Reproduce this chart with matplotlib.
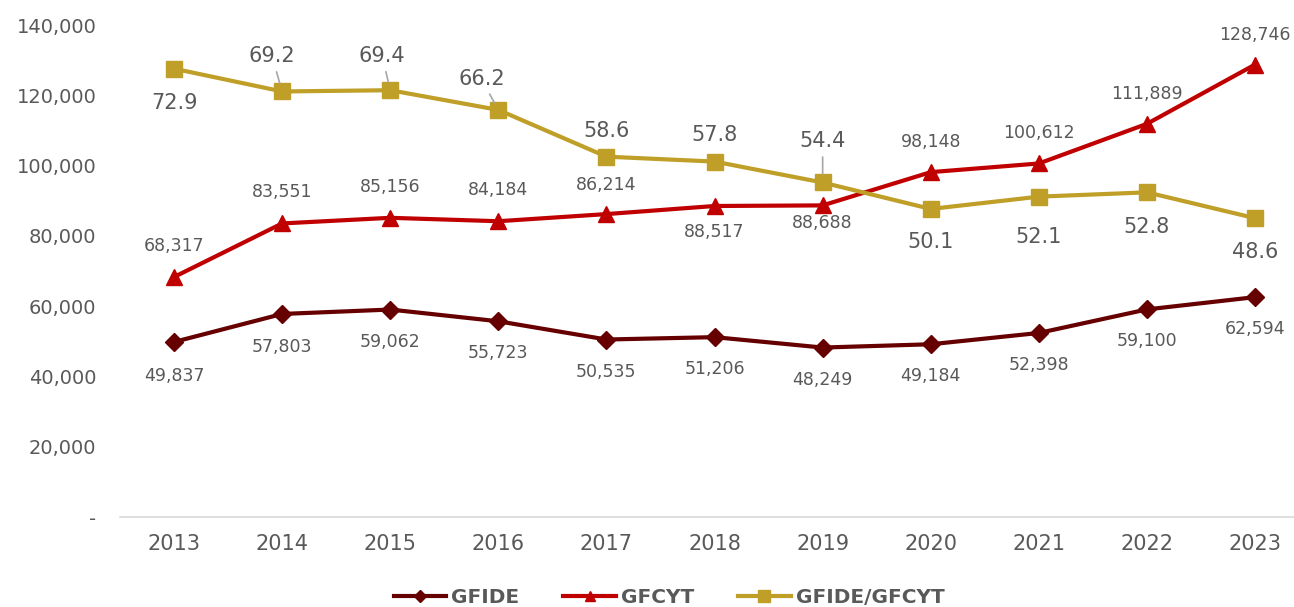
import matplotlib
matplotlib.use("Agg")
import matplotlib.pyplot as plt

years = ["2013", "2014", "2015", "2016", "2017", "2018", "2019", "2020", "2021", "2022", "2023"]
gfide = [49837, 57803, 59062, 55723, 50535, 51206, 48249, 49184, 52398, 59100, 62594]
gfcyt = [68317, 83551, 85156, 84184, 86214, 88517, 88688, 98148, 100612, 111889, 128746]
ratio = [72.9, 69.2, 69.4, 66.2, 58.6, 57.8, 54.4, 50.1, 52.1, 52.8, 48.6]
yticks = [0, 20000, 40000, 60000, 80000, 100000, 120000, 140000]
ytick_labels = ["-", "20,000", "40,000", "60,000", "80,000", "100,000", "120,000", "140,000"]

C_GFIDE = "#660000"
C_GFCYT = "#C00000"
C_RATIO = "#BF9F27"
TXT = "#595959"

plt.rcParams["font.family"] = ["DejaVu Sans"]

fig = plt.figure(figsize=(12.94, 6.07), dpi=100)
ax = fig.add_axes([0.0927, 0.148, 0.9073, 0.8108])
ax2 = ax.twinx()

x = list(range(len(years)))
ax.plot(x, gfide, color=C_GFIDE, lw=3.0, marker="D", ms=9, label="GFIDE", zorder=3)
ax.plot(x, gfcyt, color=C_GFCYT, lw=3.0, marker="^", ms=11, label="GFCYT", zorder=3)
ax2.plot(x, ratio, color=C_RATIO, lw=3.0, marker="s", ms=12, label="GFIDE/GFCYT", zorder=3)

ax.set_ylim(0, 140000)
ax2.set_ylim(0, 80)
ax.set_xlim(-0.5, 10.36)
ax.set_yticks(yticks)
ax.set_yticklabels(ytick_labels)
ax.set_xticks(x)
ax.set_xticklabels(years)
ax.tick_params(axis="y", length=0, labelsize=14, labelcolor=TXT, pad=17)
ax.tick_params(axis="x", length=0, labelsize=15, labelcolor=TXT, pad=12)
for s in ["top", "right", "left"]:
    ax.spines[s].set_visible(False)
ax.spines["bottom"].set_color("#D9D9D9")
ax.spines["bottom"].set_linewidth(1.2)
ax2.axis("off")

# value label offsets (pixels)
gfide_off = [-34, -33, -32, -32, -32, -32, -32, -32, -32, -32, -32]
gfcyt_off = [31, 31, 31, 31, 29, -26, -18, 30, 30, 30, 30]
ratio_off = [(0, -34), (-10, 35), (-8, 34), (-17, 31), (0, 26), (0, 27), (0, 41),
             (0, -33), (0, -40), (0, -35), (0, -34)]
leader = [False, True, True, True, False, False, True, False, False, False, False]

for i, v in enumerate(gfide):
    ax.annotate(f"{v:,}", (i, v), xytext=(0, gfide_off[i]), textcoords="offset pixels",
                ha="center", va="center", fontsize=12.5, color=TXT)
for i, v in enumerate(gfcyt):
    ax.annotate(f"{v:,}", (i, v), xytext=(0, gfcyt_off[i]), textcoords="offset pixels",
                ha="center", va="center", fontsize=12.5, color=TXT)
for i, v in enumerate(ratio):
    dx, dy = ratio_off[i]
    kw = {}
    if leader[i]:
        kw["arrowprops"] = dict(arrowstyle="-", color="#A6A6A6", lw=1.2, shrinkA=2, shrinkB=6)
    ax2.annotate(f"{v:.1f}", (i, v), xytext=(dx, dy), textcoords="offset pixels",
                 ha="center", va="center", fontsize=15, color=TXT, **kw)

h1, l1 = ax.get_legend_handles_labels()
h2, l2 = ax2.get_legend_handles_labels()
leg = fig.legend(h1 + h2, l1 + l2, loc="lower center", bbox_to_anchor=(0.517, -0.03),
                 ncol=3, frameon=False, handlelength=2.6, columnspacing=2.2, handletextpad=0.25,
                 prop={"size": 14.5, "weight": "bold"}, markerscale=0.7)
for t in leg.get_texts():
    t.set_color(TXT)

fig.savefig("out.png", dpi=100)
